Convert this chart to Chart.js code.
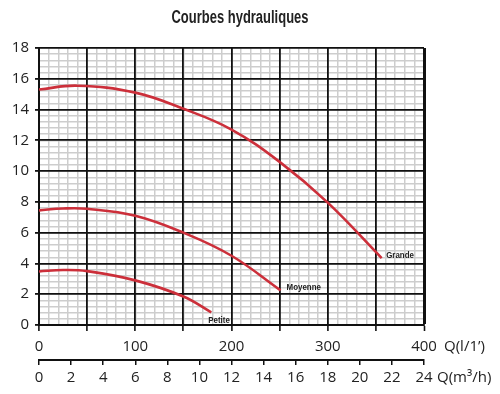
<!DOCTYPE html>
<html><head><meta charset="utf-8">
<script src="https://cdn.jsdelivr.net/npm/chart.js@4"></script>
<style>html,body{margin:0;padding:0;background:#fff}#wrap{width:500px;height:394px}</style>
</head><body><div id="wrap"><canvas id="c" width="500" height="394"></canvas></div>
<script>
// ---- data ----
const chartTitle = 'Courbes hydrauliques';
const seriesNames = ['Petite', 'Moyenne', 'Grande'];
const petiteFlow = [0, 25, 50, 100, 150, 179];
const petiteHead = [3.48, 3.57, 3.5, 2.9, 1.85, 0.82];
const moyenneFlow = [0, 25, 50, 100, 150, 200, 251];
const moyenneHead = [7.45, 7.57, 7.55, 7.1, 6.0, 4.5, 2.25];
const grandeFlow = [0, 40, 100, 150, 200, 250, 300, 356];
const grandeHead = [15.3, 15.55, 15.1, 14.05, 12.7, 10.6, 7.95, 4.35];
const flowLabelsLpm = [0, 100, 200, 300, 400];
const flowUnitLpm = 'Q(l/1’)';
const flowUnitM3h = 'Q(m³/h)';

const RED = '#cc2f3a';
const INK = '#222';
const tickFont = {family: '"Open Sans", "Liberation Sans", sans-serif', size: 15};

function pts(f, h) { return f.map((v, i) => ({x: v, y: h[i]})); }
const labelOffsets = [[-3, 8], [6, -2.5], [4.5, -2.5]];

function condensedText(ctx, text, x, y, sx) {
  ctx.save();
  ctx.translate(x, y);
  ctx.scale(sx, 1);
  ctx.fillText(text, 0, 0);
  ctx.restore();
}

const overlay = {
  id: 'overlay',
  afterDraw(chart) {
    const ctx = chart.ctx;
    ctx.save();
    ctx.fillStyle = INK;
    ctx.textBaseline = 'middle';
    // title
    ctx.font = 'bold 18px "Liberation Sans", sans-serif';
    ctx.textAlign = 'center';
    const tw = ctx.measureText(chartTitle).width;
    condensedText(ctx, chartTitle, 240, 18, 137 / tw);
    // unit labels
    ctx.font = '15px ' + tickFont.family;
    ctx.textAlign = 'left';
    const xs = chart.scales.x, x2 = chart.scales.x2;
    ctx.fillText(flowUnitLpm, xs.getPixelForValue(400) + 20, 347);
    ctx.fillText(flowUnitM3h, x2.getPixelForValue(24) + 13, 377.5);
    // series labels
    ctx.font = 'bold 9px "Liberation Sans", sans-serif';
    chart.data.datasets.forEach((ds, i) => {
      const meta = chart.getDatasetMeta(i);
      const last = meta.data[meta.data.length - 1];
      const o = labelOffsets[i];
      condensedText(ctx, ds.label, last.x + o[0], last.y + o[1], 0.88);
    });
    ctx.restore();
  }
};

new Chart(document.getElementById('c'), {
  type: 'line',
  data: {
    datasets: [
      {label: seriesNames[0], data: pts(petiteFlow, petiteHead)},
      {label: seriesNames[1], data: pts(moyenneFlow, moyenneHead)},
      {label: seriesNames[2], data: pts(grandeFlow, grandeHead)}
    ].map(d => Object.assign(d, {
      borderColor: RED, borderWidth: 2.6, pointRadius: 0, fill: false,
      tension: 0.4, xAxisID: 'x', yAxisID: 'y'
    }))
  },
  options: {
    responsive: false, animation: false, devicePixelRatio: 1,
    layout: {padding: {top: 48, right: 76, bottom: 7, left: 0}},
    plugins: {legend: {display: false}, tooltip: {enabled: false}, title: {display: false}},
    scales: {
      x: {
        type: 'linear', position: 'bottom', weight: 0, min: 0, max: 400,
        ticks: {stepSize: 50, autoSkip: false, maxRotation: 0, padding: 7, color: INK, font: tickFont,
          callback: v => flowLabelsLpm.includes(v) ? String(v) : ''},
        grid: {color: '#111', lineWidth: c => (c.tick && c.tick.value === 400) ? 3 : 1.8,
          tickLength: 6, tickColor: '#111', tickWidth: 1.6},
        border: {display: true, color: '#111', width: 2},
        afterFit: s => { s.height = 35; }
      },
      x2: {
        type: 'linear', position: 'bottom', weight: 1, min: 0, max: 24,
        ticks: {stepSize: 2, autoSkip: false, maxRotation: 0, padding: 4, color: INK, font: tickFont},
        grid: {drawOnChartArea: false, tickLength: 5, color: '#111', lineWidth: 1.5},
        border: {display: true, color: '#111', width: 2},
        afterFit: s => { s.height = 27; }
      },
      xMinor: {
        type: 'linear', position: 'top', min: 0, max: 400,
        ticks: {display: false, stepSize: 10},
        grid: {color: '#cdcdcd', lineWidth: 1.5, drawTicks: false, z: -2},
        border: {display: false},
        afterFit: s => { s.height = 0; }
      },
      y: {
        type: 'linear', position: 'left', min: 0, max: 18,
        ticks: {stepSize: 2, padding: 6, color: INK, font: tickFont},
        grid: {color: '#111', lineWidth: 1.8, tickLength: 4, tickColor: '#111'},
        border: {display: true, color: '#111', width: 2},
        afterFit: s => { s.width = 39; }
      },
      yMinor: {
        type: 'linear', position: 'right', min: 0, max: 18,
        ticks: {display: false, stepSize: 0.4},
        grid: {color: '#cdcdcd', lineWidth: 1.5, drawTicks: false, z: -2},
        border: {display: false},
        afterFit: s => { s.width = 0; }
      }
    }
  },
  plugins: [overlay]
});
</script>
</body></html>
